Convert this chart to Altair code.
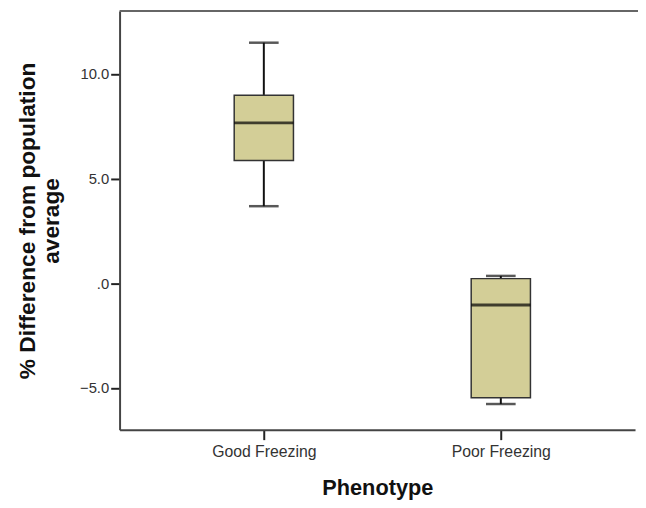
import altair as alt
import pandas as pd

phenotype = ["Good Freezing", "Poor Freezing"]
whisker_low = [3.68, -5.77]
q1 = [5.86, -5.47]
median = [7.66, -1.04]
q3 = [8.98, 0.22]
whisker_high = [11.49, 0.35]

y_ticks = [-5, 0, 5, 10]

df = pd.DataFrame({
    "Phenotype": phenotype,
    "low": whisker_low,
    "q1": q1,
    "median": median,
    "q3": q3,
    "high": whisker_high,
})

W, H = 522, 424
FONT = "Liberation Sans"

xscale = alt.Scale(type="point", padding=0.5875, align=0.518)
yscale = alt.Scale(domain=[-7, 13], nice=False, zero=False)

x_enc = alt.X(
    "Phenotype:N",
    scale=xscale,
    sort=phenotype,
    axis=alt.Axis(
        title="Phenotype",
        labelAngle=0,
        labelFont=FONT,
        labelFontSize=16,
        labelColor="#333333",
        labelPadding=4,
        tickSize=10,
        tickWidth=2,
        tickColor="#222222",
        domainColor="#444444",
        domainWidth=2,
        titleFont=FONT,
        titleFontSize=22,
        titleFontWeight="bold",
        titleColor="#111111",
        titlePadding=19,
    ),
)

base = alt.Chart(df)

whiskers = base.mark_rule(color="#111111", strokeWidth=2).encode(
    x=x_enc,
    y=alt.Y(
        "low:Q",
        scale=yscale,
        axis=alt.Axis(
            values=y_ticks,
            labelExpr="datum.value == 0 ? '.0' : format(datum.value, '.1f')",
            grid=False,
            labelFont=FONT,
            labelFontSize=15,
            labelColor="#333333",
            labelPadding=2,
            tickSize=9,
            tickWidth=2,
            tickColor="#222222",
            domainColor="#444444",
            domainWidth=2,
            title=["% Difference from population", "average"],
            titleFont=FONT,
            titleFontSize=23,
            titleFontWeight="bold",
            titleColor="#111111",
            titleLineHeight=24,
            titleAngle=270,
            titleAlign="center",
            titleBaseline="bottom",
            titleX=-81,
            titleY=H / 2,
        ),
    ),
    y2="high:Q",
)

box = base.mark_bar(size=60, color="#D3CE97", stroke="#333333", strokeWidth=1.5).encode(
    x=x_enc,
    y=alt.Y("q1:Q", scale=yscale),
    y2="q3:Q",
)

med = base.mark_tick(size=60, thickness=3, color="#000000").encode(
    x=x_enc,
    y=alt.Y("median:Q", scale=yscale),
)

cap_low = base.mark_tick(size=30, thickness=2.5, color="#111111").encode(
    x=x_enc,
    y=alt.Y("low:Q", scale=yscale),
)

cap_high = base.mark_tick(size=30, thickness=2.5, color="#111111").encode(
    x=x_enc,
    y=alt.Y("high:Q", scale=yscale),
)

top_line = alt.Chart(pd.DataFrame({"a": [0]})).mark_rule(color="#666666", strokeWidth=2).encode(
    y=alt.value(0),
    x=alt.value(0),
    x2=alt.value(W + 3),
)

chart = alt.layer(whiskers, box, med, cap_low, cap_high, top_line).properties(
    width=W,
    height=H,
    autosize=alt.AutoSizeParams(type="none"),
    padding={"left": 113, "top": 0, "right": 3, "bottom": 68},
    background="white",
).configure_view(stroke=None)

chart.save("out.html", embed_options={"renderer": "svg", "actions": False})
